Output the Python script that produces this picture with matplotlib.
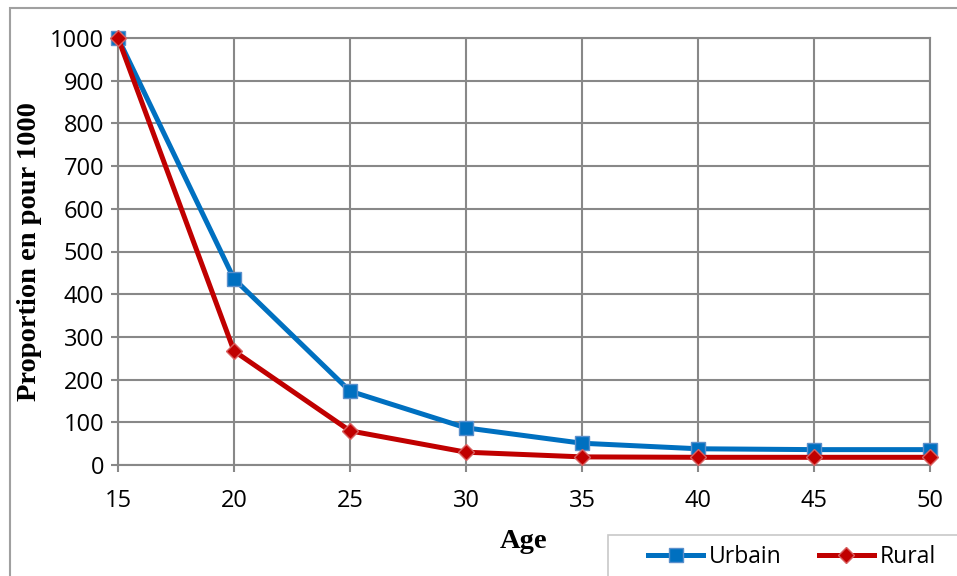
import matplotlib.pyplot as plt
import matplotlib.patches as patches

# Données
ages = [15, 20, 25, 30, 35, 40, 45, 50]
urbain = [1000, 436, 173, 87, 51, 38, 36, 36]
rural = [1000, 267, 80, 30, 19, 18, 18, 18]

blue = "#0070C0"
red = "#C00000"
grid_col = "#888888"

fig = plt.figure(figsize=(9.57, 5.76), dpi=100)
ax = fig.add_axes([118 / 957, 1 - 465 / 576, (930 - 118) / 957, (465 - 38) / 576])

# Cadre extérieur
fig.patches.append(patches.Rectangle(
    (10 / 957, -0.05), 1.1, 1 - 8 / 576 + 0.05,
    transform=fig.transFigure, fill=False, edgecolor="#a0a0a0", linewidth=1.5
))
# Cadre de la légende
fig.patches.append(patches.Rectangle(
    (608 / 957, -0.05), 0.5, 0.05 + 1 - 535 / 576,
    transform=fig.transFigure, fill=False, edgecolor="#c8c8c8", linewidth=1.2
))

ax.plot(ages, urbain, color=blue, linewidth=3.6, marker="s", markersize=10,
        markerfacecolor=blue, markeredgecolor="#5b8fcb", markeredgewidth=1,
        label="Urbain", zorder=3, clip_on=False)
ax.plot(ages, rural, color=red, linewidth=3.6, marker="D", markersize=8,
        markerfacecolor=red, markeredgecolor="#d86060", markeredgewidth=1,
        label="Rural", zorder=4, clip_on=False)

ax.set_xlim(15, 50)
ax.set_ylim(0, 1000)
ax.set_xticks(ages)
ax.set_yticks(range(0, 1001, 100))
ax.grid(True, color=grid_col, linewidth=1.5)
ax.set_axisbelow(True)
for s in ax.spines.values():
    s.set_color(grid_col)
    s.set_linewidth(1.5)
ax.tick_params(direction="out", length=5, width=1.5, color=grid_col,
               labelsize=17, pad=5)
for lab in ax.get_xticklabels() + ax.get_yticklabels():
    lab.set_fontfamily("Open Sans")
ax.tick_params(axis="x", pad=12)

ax.set_ylabel("Proportion en pour 1000", fontsize=20.5, fontweight="bold",
              fontfamily="Liberation Serif", labelpad=6)
ax.set_xlabel("Age", fontsize=20.5, fontweight="bold",
              fontfamily="Liberation Serif", labelpad=12)

fig.legend(loc="center", bbox_to_anchor=(792 / 957, 1 - 557 / 576), ncol=2,
           frameon=False, prop={"family": "Open Sans", "size": 16.5},
           handlelength=2.4, handletextpad=0.25, columnspacing=1.6)

fig.savefig("out.png", dpi=100)
